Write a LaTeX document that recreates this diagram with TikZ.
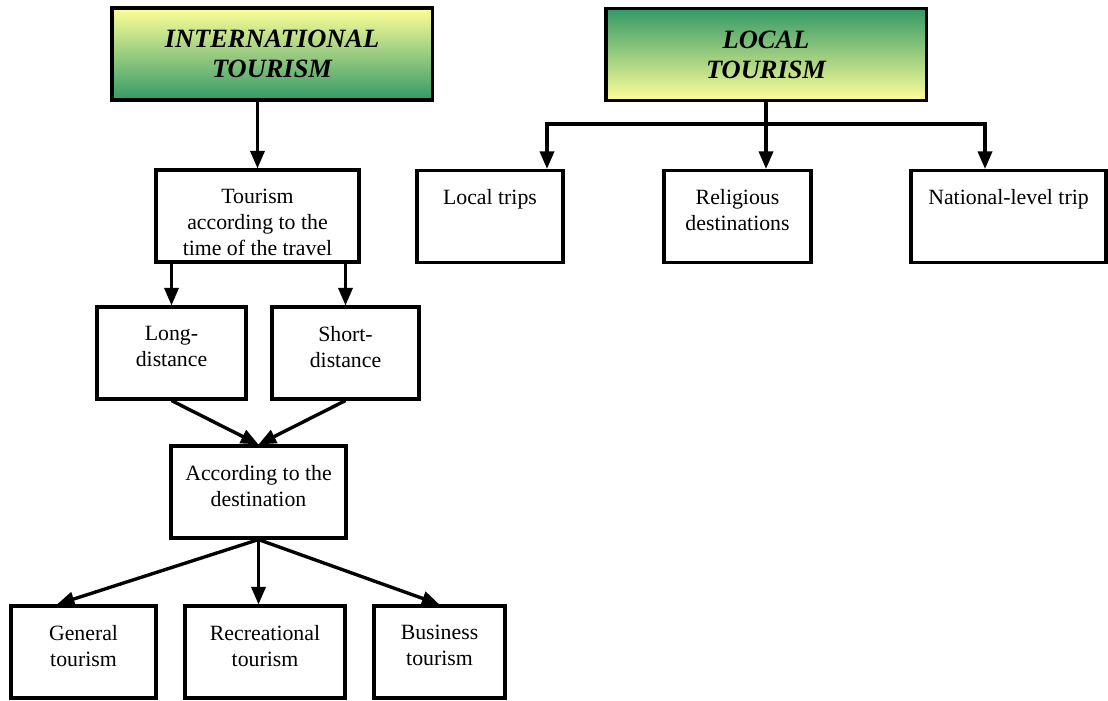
\documentclass[tikz,border=0pt]{standalone}
\usepackage{fontspec}
\setmainfont{Liberation Serif}
\usetikzlibrary{arrows.meta,calc}
\definecolor{tyellow}{RGB}{255,255,153}
\definecolor{tgreen}{RGB}{51,153,102}
\begin{document}
\begin{tikzpicture}[x=0.025cm, y=-0.025cm] % pixel-like units, y downwards
\tikzstyle{headbox} = [draw, line width=2.2pt, minimum width=8cm, minimum height=2.3cm, align=center, font=\fontsize{18.8}{21.3}\selectfont\bfseries\itshape] % heading box
\tikzstyle{greendown} = [top color=tyellow, bottom color=tgreen] % yellow to green
\tikzstyle{greenup} = [top color=tgreen, bottom color=tyellow] % green to yellow
\tikzstyle{plainbox} = [draw, line width=2.2pt, minimum height=2.3cm, inner sep=0pt] % white box
\tikzstyle{boxtext} = [anchor=north, align=center, inner sep=0pt, yshift=-14.5pt, font=\fontsize{15.5}{18.4}\selectfont] % text at the top of a box
\tikzstyle{joinline} = [line width=2.4pt]
\tikzstyle{arr} = [line width=2.4pt, -{Triangle[length=12.5pt,width=10pt]}]

\useasboundingbox (0,0) rectangle (1108,700);

% headings
\node[headbox, greendown] (intl) at (272,54) {INTERNATIONAL\\TOURISM};
\node[headbox, greenup] (local) at (766,54.5) {LOCAL\\TOURISM};

% local side
\node[plainbox, minimum width=3.65cm] (trips) at (490,216.5) {};
\node[boxtext] (tripstext) at (trips.north) {Local trips};
\node[plainbox, minimum width=3.675cm] (relig) at (737.5,216.5) {};
\node[boxtext] (religtext) at (relig.north) {Religious\\destinations};
\node[plainbox, minimum width=4.875cm] (natl) at (1008.5,216.5) {};
\node[boxtext] (natltext) at (natl.north) {National-level trip};

% international side
\node[plainbox, minimum width=5.075cm] (timebox) at (257.5,216) {};
\node[boxtext] (timetext) at (timebox.north) {Tourism\\according to the\\time of the travel};
\node[plainbox, minimum width=3.725cm] (longd) at (171.5,353) {};
\node[boxtext] (longtext) at (longd.north) {Long-\\distance};
\node[plainbox, minimum width=3.675cm] (shortd) at (345.5,353) {};
\node[boxtext] (shorttext) at (shortd.north) {Short-\\distance};
\node[plainbox, minimum width=4.375cm] (dest) at (258.5,492) {};
\node[boxtext] (desttext) at (dest.north) {According to the\\destination};
\node[plainbox, minimum width=3.625cm] (general) at (83.5,652) {};
\node[boxtext] (generaltext) at (general.north) {General\\tourism};
\node[plainbox, minimum width=4cm] (recr) at (265,652) {};
\node[boxtext] (recrtext) at (recr.north) {Recreational\\tourism};
\node[plainbox, minimum width=3.275cm] (business) at (439.5,652) {};
\node[boxtext] (businesstext) at (business.north) {Business\\tourism};

% connectors
\draw[arr] (intl.south -| timebox.north) -- (timebox.north);
\draw[arr] (timebox.south -| longd.north) -- (longd.north);
\draw[arr] (timebox.south -| shortd.north) -- (shortd.north);
\draw[arr] (longd.south) -- (dest.north);
\draw[arr] (shortd.south) -- (dest.north);
\draw[arr] (dest.south) -- ($(general.north west)!0.32!(general.north east)$);
\draw[arr] (dest.south) -- (dest.south |- recr.north);
\draw[arr] (dest.south) -- (business.north);

\coordinate (hubL) at (547,124);
\coordinate (hubR) at (985,124);
\draw[joinline] (local.south) -- (local.south |- hubL);
\draw[arr] (hubR) -- (hubL) -- (hubL |- trips.north);
\draw[arr] (hubL) -- (hubR) -- (hubR |- natl.north);
\draw[arr] (local.south |- hubL) -- (local.south |- relig.north);
\end{tikzpicture}
\end{document}
